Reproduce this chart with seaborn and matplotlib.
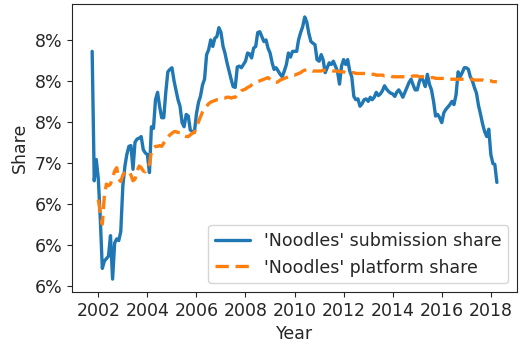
import numpy as np
import pandas as pd
import matplotlib
matplotlib.use("Agg")
import matplotlib.pyplot as plt
from matplotlib.ticker import PercentFormatter
import seaborn as sns

# Monthly shares (percent), Oct 2001 .. Apr 2018
submission_share = [
    # 2001 (Oct-Dec)
    8.36, 6.78, 7.04,
    # 2002
    6.80, 6.28, 5.71, 5.80, 5.83, 5.86, 6.11, 5.58, 6.02, 6.07, 6.05, 6.16,
    # 2003
    6.72, 6.96, 7.10, 7.20, 7.21, 6.92, 7.25, 7.29, 7.30, 7.32, 7.16, 7.12,
    # 2004
    7.10, 6.88, 7.44, 7.42, 7.77, 7.86, 7.69, 7.55, 7.55, 7.86, 8.11, 8.14,
    # 2005
    8.16, 8.00, 7.89, 7.77, 7.69, 7.49, 7.44, 7.59, 7.57, 7.40, 7.38, 7.37,
    # 2006
    7.60, 7.74, 7.81, 7.95, 8.02, 8.32, 8.38, 8.50, 8.42, 8.52, 8.54, 8.65,
    # 2007
    8.59, 8.42, 8.34, 8.22, 8.12, 8.02, 7.93, 7.92, 8.17, 8.18, 8.16, 8.20,
    # 2008
    8.24, 8.34, 8.33, 8.28, 8.40, 8.42, 8.59, 8.60, 8.54, 8.48, 8.50, 8.40,
    # 2009
    8.34, 8.22, 8.14, 8.16, 8.12, 8.08, 8.05, 8.12, 8.20, 8.34, 8.29, 8.36,
    # 2010
    8.36, 8.36, 8.50, 8.59, 8.66, 8.78, 8.72, 8.58, 8.48, 8.46, 8.44, 8.26,
    # 2011
    8.24, 8.32, 8.26, 8.10, 8.16, 8.22, 8.20, 8.24, 8.18, 8.12, 7.96, 8.18,
    # 2012
    8.26, 8.20, 8.26, 8.12, 8.05, 7.81, 7.77, 7.78, 7.69, 7.72, 7.77, 7.78,
    # 2013
    7.75, 7.80, 7.77, 7.80, 7.86, 7.82, 7.84, 7.88, 7.94, 7.90, 7.87, 7.85,
    # 2014
    7.84, 7.81, 7.86, 7.89, 7.85, 7.80, 7.86, 7.92, 7.98, 8.02, 7.95, 7.89,
    # 2015
    7.89, 7.99, 8.05, 8.00, 7.93, 8.08, 7.96, 7.89, 7.75, 7.57, 7.59, 7.55,
    # 2016
    7.49, 7.61, 7.65, 7.68, 7.71, 7.75, 7.71, 7.83, 8.11, 8.05, 8.10, 8.16,
    # 2017
    8.16, 8.14, 8.05, 8.00, 7.92, 7.85, 7.70, 7.59, 7.47, 7.38, 7.32, 7.41,
    # 2018 (Jan-Apr)
    7.10, 6.99, 6.98, 6.76,
]

platform_share = [
    # 2001 (Oct-Dec): no platform figure yet
    np.nan, np.nan, np.nan,
    # 2002
    6.55, 6.38, 6.25, 6.60, 6.74, 6.72, 6.74, 6.82, 6.90, 6.94, 6.80, 6.77,
    # 2003
    6.85, 6.88, 6.89, 6.90, 6.85, 6.78, 6.80, 6.90, 6.96, 6.94, 6.90, 6.89,
    # 2004
    6.96, 6.98, 7.14, 7.18, 7.20, 7.20, 7.21, 7.20, 7.24, 7.28, 7.31, 7.34,
    # 2005
    7.36, 7.38, 7.38, 7.37, 7.37, 7.36, 7.33, 7.32, 7.32, 7.34, 7.36, 7.37,
    # 2006
    7.45, 7.50, 7.56, 7.62, 7.66, 7.69, 7.72, 7.74, 7.75, 7.76, 7.77, 7.77,
    # 2007
    7.78, 7.79, 7.79, 7.80, 7.80, 7.79, 7.80, 7.80, 7.83, 7.85, 7.88, 7.89,
    # 2008
    7.90, 7.92, 7.93, 7.95, 7.97, 7.98, 7.99, 8.00, 8.01, 8.02, 8.03, 8.04,
    # 2009
    8.02, 8.00, 7.98, 7.98, 7.99, 8.01, 8.02, 8.03, 8.04, 8.05, 8.06, 8.07,
    # 2010
    8.07, 8.08, 8.09, 8.10, 8.12, 8.13, 8.14, 8.13, 8.13, 8.12, 8.12, 8.12,
    # 2011
    8.12, 8.12, 8.13, 8.13, 8.13, 8.13, 8.13, 8.12, 8.12, 8.12, 8.11, 8.11,
    # 2012
    8.11, 8.10, 8.10, 8.10, 8.10, 8.10, 8.09, 8.09, 8.09, 8.09, 8.09, 8.09,
    # 2013
    8.08, 8.08, 8.08, 8.08, 8.07, 8.07, 8.07, 8.07, 8.06, 8.06, 8.06, 8.06,
    # 2014
    8.05, 8.05, 8.05, 8.05, 8.05, 8.05, 8.05, 8.05, 8.05, 8.05, 8.06, 8.06,
    # 2015
    8.06, 8.05, 8.05, 8.05, 8.05, 8.04, 8.04, 8.04, 8.04, 8.03, 8.03, 8.03,
    # 2016
    8.03, 8.03, 8.02, 8.02, 8.02, 8.02, 8.02, 8.02, 8.02, 8.02, 8.02, 8.02,
    # 2017
    8.02, 8.02, 8.02, 8.02, 8.01, 8.01, 8.01, 8.01, 8.01, 8.00, 8.00, 8.00,
    # 2018 (Jan-Apr)
    8.00, 7.99, 7.99, 7.99,
]

months = pd.date_range("2001-10-01", "2018-04-01", freq="MS")

series_labels = ["'Noodles' submission share", "'Noodles' platform share"]
y_ticks = [0.055, 0.060, 0.065, 0.070, 0.075, 0.080, 0.085]

df = pd.DataFrame({
    "Year": np.concatenate([months, months]),
    "Share": np.concatenate([np.array(submission_share), np.array(platform_share)]) / 100.0,
    "Series": np.repeat(series_labels, len(months)),
})

sns.set_style("ticks")
plt.rcParams.update({
    "font.family": ["DejaVu Sans"],
    "font.size": 12.5,
    "axes.labelsize": 12.5,
    "xtick.labelsize": 12.5,
    "ytick.labelsize": 12.5,
    "legend.fontsize": 12.5,
})

fig, ax = plt.subplots(figsize=(5.25, 3.52), dpi=100)
fig.subplots_adjust(left=0.137, right=0.985, top=0.989, bottom=0.170)

sns.lineplot(
    data=df, x="Year", y="Share", hue="Series", style="Series",
    palette=["#1f77b4", "#ff7f0e"], dashes=[(None, None), (4, 2)],
    linewidth=2.4, ax=ax,
)

ax.set_yticks(y_ticks)
ax.yaxis.set_major_formatter(PercentFormatter(xmax=1, decimals=0))
ax.margins(x=0.05, y=0.05)
ax.set_xlabel("Year")
ax.set_ylabel("Share")

leg = ax.legend(loc="lower right", frameon=True, handlelength=2.0)
leg.get_frame().set_edgecolor("#cccccc")

for side in ["top", "right", "left", "bottom"]:
    ax.spines[side].set_visible(True)

fig.savefig("out.png", dpi=100)
